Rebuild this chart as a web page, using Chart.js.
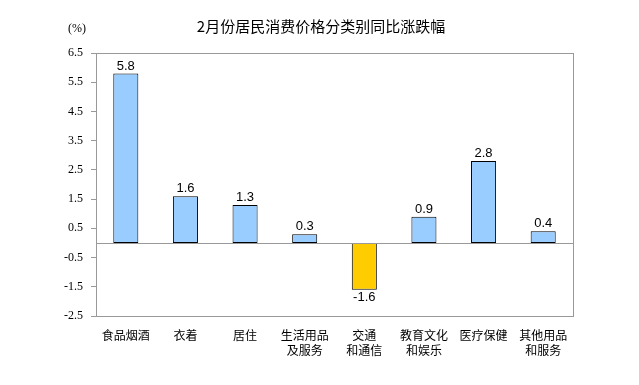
<!DOCTYPE html>
<html>
<head>
<meta charset="utf-8">
<script src="https://cdn.jsdelivr.net/npm/chart.js@4/dist/chart.umd.min.js"></script>
<style>
  html, body { margin: 0; padding: 0; background: #fff; }
  #wrap { width: 639px; height: 385px; }
</style>
</head>
<body>
<div id="wrap"><canvas id="cpiChart" width="639" height="385"></canvas></div>
<script>
// 数据
const categories = [
  ['食品烟酒'], ['衣着'], ['居住'], ['生活用品', '及服务'],
  ['交通', '和通信'], ['教育文化', '和娱乐'], ['医疗保健'], ['其他用品', '和服务']
];
const values = [5.8, 1.6, 1.3, 0.3, -1.6, 0.9, 2.8, 0.4];
const yTicks = [6.5, 5.5, 4.5, 3.5, 2.5, 1.5, 0.5, -0.5, -1.5, -2.5];
const chartTitle = '2月份居民消费价格分类别同比涨跌幅';
const unitLabel = '(%)';

const axisGray = '#999999';

// 边框、零线、标题、数值标签
const decorPlugin = {
  id: 'decor',
  afterDatasetsDraw(chart) {
    const { ctx, chartArea: a, scales } = chart;
    ctx.save();
    ctx.strokeStyle = axisGray;
    ctx.lineWidth = 1;
    ctx.strokeRect(Math.round(a.left) + 0.5, Math.round(a.top) + 0.5,
      Math.round(a.right - a.left), Math.round(a.bottom - a.top));
    const y0 = Math.round(scales.y.getPixelForValue(0)) + 0.5;
    ctx.beginPath();
    ctx.moveTo(a.left, y0);
    ctx.lineTo(a.right, y0);
    ctx.stroke();

    // 数值标签
    ctx.fillStyle = '#000';
    ctx.font = '13px "Liberation Sans", Arial, sans-serif';
    ctx.textAlign = 'center';
    chart.getDatasetMeta(0).data.forEach((bar, i) => {
      const v = values[i];
      if (v >= 0) {
        ctx.textBaseline = 'bottom';
        ctx.fillText(v.toFixed(1), bar.x, bar.y - 1);
      } else {
        ctx.textBaseline = 'top';
        ctx.fillText(v.toFixed(1), bar.x, bar.y + 1);
      }
    });

    // 标题
    ctx.font = '15px "Noto Sans CJK SC", sans-serif';
    ctx.textBaseline = 'middle';
    ctx.fillText(chartTitle, 321, 26);

    ctx.font = '12px "Liberation Serif", "Times New Roman", serif';
    ctx.fillText(unitLabel, 77, 29);
    ctx.restore();
  }
};

const ctx = document.getElementById('cpiChart').getContext('2d');
new Chart(ctx, {
  type: 'bar',
  data: {
    labels: categories,
    datasets: [{
      data: values,
      backgroundColor: values.map(v => v < 0 ? '#FFCC00' : '#99CCFF'),
      borderColor: '#000',
      borderWidth: 1,
      borderSkipped: false,
      categoryPercentage: 1,
      barPercentage: 0.42
    }]
  },
  options: {
    responsive: false,
    animation: false,
    layout: { padding: { left: 0, right: 66, top: 53, bottom: 0 } },
    plugins: {
      legend: { display: false },
      tooltip: { enabled: false },
      title: { display: false }
    },
    scales: {
      x: {
        grid: { display: false, drawTicks: false },
        border: { display: false },
        ticks: {
          color: '#000',
          padding: 12,
          maxRotation: 0,
          autoSkip: false,
          font: { family: '"Noto Sans CJK SC", sans-serif', size: 12, lineHeight: 1.25 }
        },
        afterFit(scale) { scale.height = 69; }
      },
      y: {
        min: -2.5,
        max: 6.5,
        afterBuildTicks(scale) { scale.ticks = yTicks.map(v => ({ value: v })); },
        grid: { drawOnChartArea: false, drawTicks: true, tickLength: 5, color: axisGray },
        border: { display: true, color: axisGray },
        ticks: {
          color: '#000',
          padding: 8,
          callback: v => v.toFixed(1),
          font: { family: '"Liberation Serif", "Times New Roman", serif', size: 12 }
        },
        afterFit(scale) { scale.width = 96; }
      }
    }
  },
  plugins: [decorPlugin]
});
</script>
</body>
</html>
